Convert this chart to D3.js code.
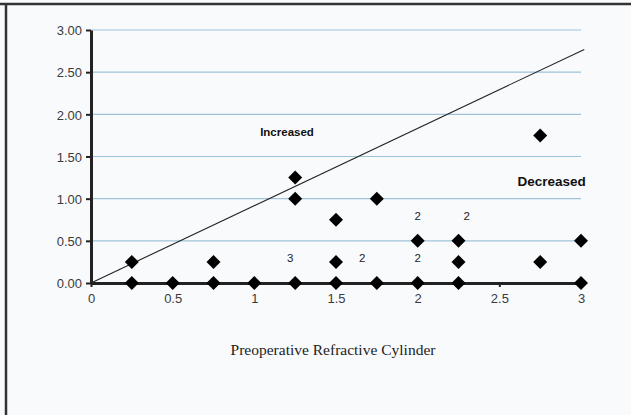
<!DOCTYPE html>
<html>
<head>
<meta charset="utf-8">
<title>Preoperative Refractive Cylinder</title>
<script src="https://d3js.org/d3.v7.min.js"></script>
<style>
  body { margin: 0; background: #fff; }
  svg { display: block; }
</style>
</head>
<body>
<svg width="631" height="415"></svg>
<script>
    // data
    const pointX = [0.25, 0.25, 0.5, 0.75, 0.75, 1, 1.25, 1.25, 1.25, 1.5, 1.5, 1.5, 1.75, 1.75, 2, 2, 2.25, 2.25, 2.25, 2.75, 2.75, 3, 3];
    const pointY = [0, 0.25, 0, 0, 0.25, 0, 0, 1.0, 1.25, 0, 0.25, 0.75, 0, 1.0, 0, 0.5, 0, 0.25, 0.5, 0.25, 1.75, 0, 0.5];
    const countLabels = ["3", "2", "2", "2", "2"];
    const countX = [1.22, 1.66, 2.0, 2.0, 2.3];
    const countY = [0.3, 0.3, 0.3, 0.79, 0.79];
    const lineX = [0, 3.02];
    const lineY = [0, 2.77];
    const yTicks = [0, 0.5, 1, 1.5, 2, 2.5, 3];
    const xTicks = [0, 0.5, 1, 1.5, 2, 2.5, 3];

    const svg = d3.select("svg");

    // page background and frame
    svg.append("rect").attr("width", 631).attr("height", 415).attr("fill", "#f9fafc");
    svg.append("line").attr("x1", 0).attr("x2", 631).attr("y1", 4).attr("y2", 4)
        .attr("stroke", "#333").attr("stroke-width", 2.5);
    svg.append("line").attr("x1", 6).attr("x2", 6).attr("y1", 3).attr("y2", 415)
        .attr("stroke", "#333").attr("stroke-width", 2.5);

    const x = d3.scaleLinear().domain([0, 3]).range([91, 581]);
    const y = d3.scaleLinear().domain([0, 3]).range([283, 30]);

    // gridlines
    svg.append("g").selectAll("line").data(yTicks.filter(d => d > 0)).enter().append("line")
        .attr("x1", x(0)).attr("x2", x(3))
        .attr("y1", d => y(d)).attr("y2", d => y(d))
        .attr("stroke", "#9ec3d8").attr("stroke-width", 1.2);

    // diagonal
    svg.append("line")
        .attr("x1", x(lineX[0])).attr("y1", y(lineY[0]))
        .attr("x2", x(lineX[1])).attr("y2", y(lineY[1]))
        .attr("stroke", "#222").attr("stroke-width", 1.1);

    // axes
    const yAxis = svg.append("g")
        .attr("transform", "translate(" + x(0) + ",0)")
        .call(d3.axisLeft(y).tickValues(yTicks).tickFormat(d3.format(".2f")).tickSize(5).tickSizeOuter(0));
    const xAxis = svg.append("g")
        .attr("transform", "translate(0," + y(0) + ")")
        .call(d3.axisBottom(x).tickValues(xTicks).tickFormat(d3.format("")).tickSize(4).tickSizeOuter(0));

    [yAxis, xAxis].forEach(a => {
        a.select(".domain").attr("stroke", "#222").attr("stroke-width", 3);
        a.selectAll(".tick line").attr("stroke", "#222").attr("stroke-width", 2);
        a.selectAll("text").attr("fill", "#3a3a3a")
            .attr("font-family", "'Liberation Sans', Arial, sans-serif").attr("font-size", 13);
    });
    yAxis.selectAll("text").attr("x", -9).attr("dy", "0.36em");
    xAxis.selectAll("text").attr("y", 11);

    // points
    svg.append("g").selectAll("path").data(pointX).enter().append("path")
        .attr("d", d3.symbol().type(d3.symbolSquare).size(98))
        .attr("transform", (d, i) => "translate(" + x(d) + "," + y(pointY[i]) + ") rotate(45)")
        .attr("fill", "#000");

    // counts
    svg.append("g").selectAll("text").data(countLabels).enter().append("text")
        .attr("x", (d, i) => x(countX[i]))
        .attr("y", (d, i) => y(countY[i]))
        .attr("dy", "0.35em")
        .attr("text-anchor", "middle")
        .attr("font-family", "'Liberation Sans', Arial, sans-serif")
        .attr("font-size", 11.5)
        .attr("fill", "#222")
        .text(d => d);

    // region labels
    svg.append("text")
        .attr("x", x(1.2)).attr("y", y(1.74))
        .attr("text-anchor", "middle")
        .attr("font-family", "'Liberation Sans', Arial, sans-serif")
        .attr("font-weight", "bold").attr("font-size", 11.5)
        .attr("fill", "#111")
        .text("Increased");
    svg.append("text")
        .attr("x", x(2.82)).attr("y", y(1.15))
        .attr("text-anchor", "middle")
        .attr("font-family", "'Liberation Sans', Arial, sans-serif")
        .attr("font-weight", "bold").attr("font-size", 13.5)
        .attr("fill", "#111")
        .text("Decreased");

    // axis title
    svg.append("text")
        .attr("x", 333).attr("y", 355)
        .attr("text-anchor", "middle")
        .attr("font-family", "'Liberation Serif', 'DejaVu Serif', serif")
        .attr("font-size", 15.5)
        .attr("fill", "#222")
        .text("Preoperative Refractive Cylinder");
</script>
</body>
</html>
